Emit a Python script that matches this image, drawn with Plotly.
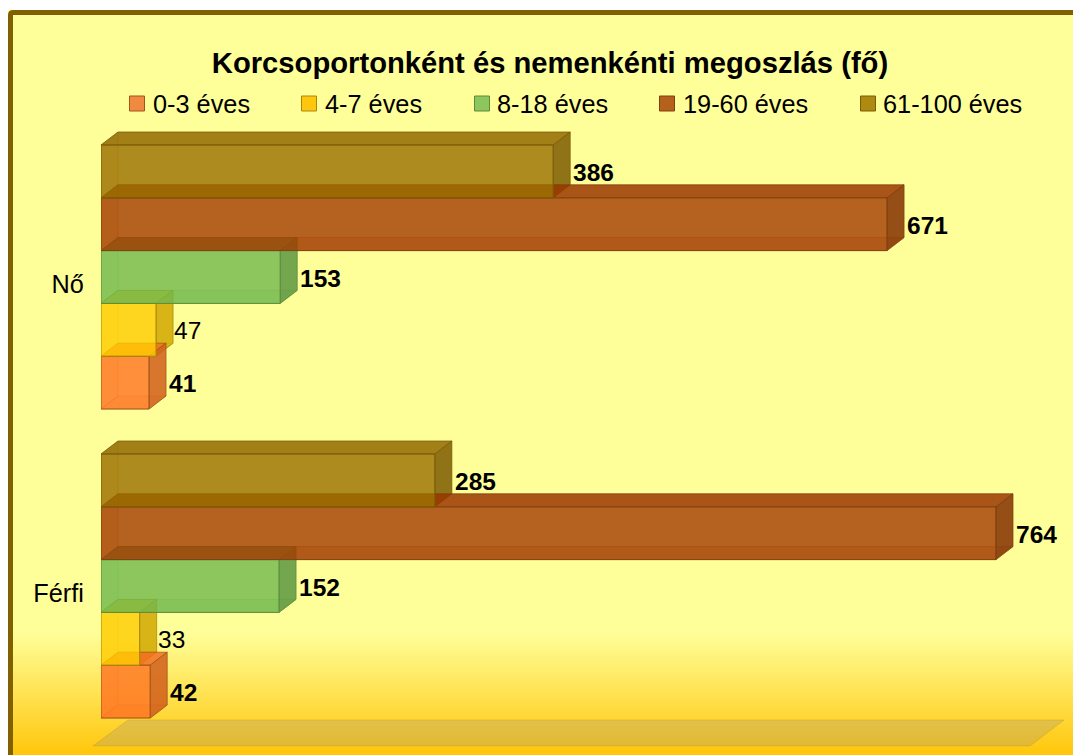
import plotly.graph_objects as go

# --- data ---
categories = ["Férfi", "Nő"]
series_names = ["0-3 éves", "4-7 éves", "8-18 éves", "19-60 éves", "61-100 éves"]
v_0_3 = [42, 41]
v_4_7 = [33, 47]
v_8_18 = [152, 153]
v_19_60 = [764, 671]
v_61_100 = [285, 386]
bold_labels = [True, False, True, True, True]
title_text = "Korcsoportonként és nemenkénti megoszlás (fő)"
all_values = [v_0_3, v_4_7, v_8_18, v_19_60, v_61_100]

# --- style ---
W, H = 1073, 755
L = 101
PX_PER_UNIT = 895 / 764
PX_PER_CAT = 309
Y0_PX = 586
FONT = "Liberation Sans"
base = [(255, 115, 34), (255, 204, 0), (111, 184, 77), (162, 58, 0), (154, 110, 0)]
edges = [(160, 85, 30), (168, 135, 10), (93, 138, 63), (127, 65, 16), (122, 92, 10)]
swatch_fill = ["#F08A40", "#FFC60F", "#8CC65C", "#B5611D", "#AE8B10"]
swatch_x = [129, 301, 474, 659, 860]
legend_text_x = [153, 325, 497, 683, 883]
GROUP = 264 / 309
BW = GROUP / 5
DX = 17 / PX_PER_UNIT
DY = 13 / PX_PER_CAT


def rgba(c, a, k=1.0):
    return f"rgba({int(c[0]*k)},{int(c[1]*k)},{int(c[2]*k)},{a})"


def xp(px):
    return (px - L) / (W - L)


def yp(px):
    return 1 - px / H


shapes = []
# background gradient
top = (255, 255, 153)
bot = (255, 198, 10)
shapes.append(dict(type="rect", xref="paper", yref="paper", x0=xp(8), x1=xp(W), y0=yp(10), y1=yp(H),
                   fillcolor=rgba(top, 1), line_width=0, layer="below"))
for p in range(632, H, 2):
    t = (p - 632) / (H - 632)
    c = tuple(top[i] + (bot[i] - top[i]) * t for i in range(3))
    shapes.append(dict(type="rect", xref="paper", yref="paper", x0=xp(8), x1=xp(W), y0=yp(p), y1=yp(p + 2),
                       fillcolor=rgba(c, 1), line_width=0, layer="below"))
# frame with softly rounded corner
shapes.append(dict(type="path", xref="paper", yref="paper",
                   path=f"M {xp(10.5)} {yp(H + 40)} L {xp(10.5)} {yp(15)} Q {xp(10.5)} {yp(12.5)} {xp(13)} {yp(12.5)} L {xp(W + 40)} {yp(12.5)}",
                   fillcolor="rgba(0,0,0,0)", line=dict(color="#806000", width=5), layer="below"))
# floor
shapes.append(dict(type="path", xref="paper", yref="paper",
                   path=f"M {xp(93)} {yp(746)} L {xp(128)} {yp(720)} L {xp(1064)} {yp(720)} L {xp(1030)} {yp(746)} Z",
                   fillcolor="rgba(150,140,130,0.28)", line=dict(color="rgba(190,150,30,0.35)", width=1), layer="below"))


def face(points, fill, edge):
    d = "M " + " L ".join(f"{x} {y}" for x, y in points) + " Z"
    return dict(type="path", xref="x", yref="y", path=d, fillcolor=fill,
                line=dict(color=edge, width=1), layer="below")


annotations = []
# draw from upper bars to lower bars
for cat in (1, 0):
    for s in range(4, -1, -1):
        v = all_values[s][cat]
        yb = cat - GROUP / 2 + s * BW
        yt = yb + BW
        c = base[s]
        edge = rgba(edges[s], 0.75)
        soft = rgba(edges[s], 0.3)
        # back, left and bottom faces seen through the front
        shapes.append(face([(0, yb), (DX, yb + DY), (v + DX, yb + DY), (v, yb)], rgba(c, 0.2), soft))
        shapes.append(face([(0, yb), (DX, yb + DY), (DX, yt + DY), (0, yt)], rgba(c, 0.08), soft))
        # top and side faces
        shapes.append(face([(0, yt), (DX, yt + DY), (v + DX, yt + DY), (v, yt)], rgba(c, 0.85, 0.95), edge))
        shapes.append(face([(v, yb), (v + DX, yb + DY), (v + DX, yt + DY), (v, yt)], rgba(c, 0.85, 0.82), edge))
        annotations.append(dict(x=v + DX, y=(yb + yt) / 2, xref="x", yref="y", text=str(v), showarrow=False,
                                xanchor="left", yanchor="middle", xshift=1 if bold_labels[s] else -1, yshift=-1,
                                font=dict(family=FONT, size=24.5, color="black",
                                          weight="bold" if bold_labels[s] else "normal")))

# hand-placed legend row, matching the reference's spacing and swatch size
for s, name in enumerate(series_names):
    shapes.append(dict(type="rect", xref="paper", yref="paper",
                       x0=xp(swatch_x[s] + 0.5), x1=xp(swatch_x[s] + 15.5), y0=yp(96), y1=yp(111),
                       fillcolor=swatch_fill[s], line=dict(color=rgba(edges[s], 1), width=1), layer="below"))
    annotations.append(dict(x=xp(legend_text_x[s]), y=yp(104), xref="paper", yref="paper", text=name, showarrow=False,
                            xanchor="left", yanchor="middle", borderpad=0, borderwidth=0,
                            font=dict(family=FONT, size=25.3, color="black")))

fig = go.Figure()
for s, name in enumerate(series_names):
    fig.add_trace(go.Bar(orientation="h", y=[0, 1], x=all_values[s], name=name, showlegend=False,
                         marker=dict(color=rgba(base[s], 0.8), line=dict(color=rgba(edges[s], 1), width=1)),
                         hoverinfo="x+name"))

fig.update_layout(
    width=W, height=H, autosize=False,
    margin=dict(l=L, r=0, t=0, b=0, pad=0),
    paper_bgcolor="white", plot_bgcolor="rgba(0,0,0,0)",
    barmode="group", bargap=1 - GROUP, bargroupgap=0,
    font=dict(family=FONT, size=25.3, color="black"),
    title=dict(text=f"<b>{title_text}</b>", font=dict(family=FONT, size=29.2, color="black"),
               x=550 / W, xref="container", xanchor="center", y=1 - 63 / H, yref="container", yanchor="middle"),
    showlegend=False,
    xaxis=dict(range=[0, (W - L) / PX_PER_UNIT], visible=False, showgrid=False, zeroline=False),
    yaxis=dict(range=[(Y0_PX - H) / PX_PER_CAT, Y0_PX / PX_PER_CAT],
               tickmode="array", tickvals=[0 - 7 / PX_PER_CAT, 1 - 7 / PX_PER_CAT], ticktext=categories,
               ticks="outside", ticklen=11, tickcolor="rgba(0,0,0,0)", showline=False, showgrid=False, zeroline=False,
               tickfont=dict(family=FONT, size=25.3, color="black")),
    shapes=shapes, annotations=annotations,
)

fig.write_html("out.html", config=dict(displayModeBar=False),
               post_script="document.body.style.margin='0';document.body.style.overflow='hidden';")
